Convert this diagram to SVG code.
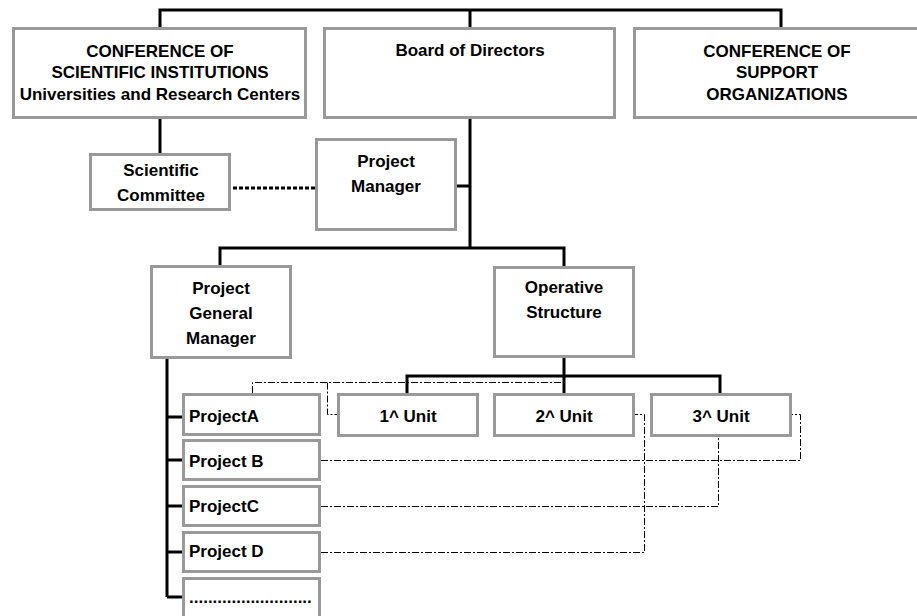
<svg xmlns="http://www.w3.org/2000/svg" width="917" height="616" viewBox="0 0 917 616">
<style>
.box{fill:#fff;stroke:#999;stroke-width:3}
.t{font-family:"Liberation Sans",Arial,sans-serif;font-size:17px;font-weight:bold;fill:#000}
.c{text-anchor:middle}
.thick{fill:none;stroke:#000;stroke-width:3}
.dot{fill:none;stroke:#000;stroke-width:3;stroke-dasharray:4 2}
.dd{fill:none;stroke:#000;stroke-width:1;stroke-dasharray:7 2 2 2}
</style>
<rect width="917" height="616" fill="#fff"/>
<g id="connectors">
<path class="thick" d="M160,27 V10 H781 V27 M470,10 V27"/>
<path class="thick" d="M160,119 V153"/>
<path class="thick" d="M470,118 V248 M457,186 H470"/>
<path class="thick" d="M220,265 V248 H564 V266"/>
<path class="thick" d="M564,358 V376 M407,393 V376 H720 V393 M564,376 V393"/>
<path class="thick" d="M167,359 V597 M167,417 H182 M167,460 H182 M167,506 H182 M167,552 H182 M167,597 H182"/>
<path class="dot" d="M233,188 H315"/>
<path class="dd" d="M252.5,393 V382.5 H563 M327.5,382.5 V414.5 H337"/>
<path class="dd" d="M321,460.5 H800.5 V414.5 H791"/>
<path class="dd" d="M321,506.5 H718.5 V437"/>
<path class="dd" d="M321,552.5 H644.5 V414.5 H635"/>
</g>
<g id="conf-scientific">
<rect class="box" x="13.5" y="28.5" width="292" height="89"/>
<text class="t c" x="160" y="57">CONFERENCE OF</text>
<text class="t c" x="160" y="78">SCIENTIFIC INSTITUTIONS</text>
<text class="t c" x="160" y="100">Universities and Research Centers</text>
</g>
<g id="board">
<rect class="box" x="324.5" y="28.5" width="290" height="89"/>
<text class="t c" x="470" y="56">Board of Directors</text>
</g>
<g id="conf-support">
<rect class="box" x="634.5" y="28.5" width="290" height="89"/>
<text class="t c" x="777" y="57">CONFERENCE OF</text>
<text class="t c" x="777" y="78">SUPPORT</text>
<text class="t c" x="777" y="100">ORGANIZATIONS</text>
</g>
<g id="scientific-committee">
<rect class="box" x="90.5" y="154.5" width="139" height="55"/>
<text class="t c" x="161" y="176">Scientific</text>
<text class="t c" x="161" y="201">Committee</text>
</g>
<g id="project-manager">
<rect class="box" x="316.5" y="139.5" width="139" height="90"/>
<text class="t c" x="386" y="167">Project</text>
<text class="t c" x="386" y="192">Manager</text>
</g>
<g id="project-general-manager">
<rect class="box" x="151.5" y="266.5" width="139" height="91"/>
<text class="t c" x="221" y="294">Project</text>
<text class="t c" x="221" y="319">General</text>
<text class="t c" x="221" y="344">Manager</text>
</g>
<g id="operative-structure">
<rect class="box" x="494.5" y="267.5" width="139" height="89"/>
<text class="t c" x="564" y="293">Operative</text>
<text class="t c" x="564" y="318">Structure</text>
</g>
<g id="unit1">
<rect class="box" x="338.5" y="394.5" width="139" height="41"/>
<text class="t c" x="408" y="422">1^ Unit</text>
</g>
<g id="unit2">
<rect class="box" x="494.5" y="394.5" width="139" height="41"/>
<text class="t c" x="564" y="422">2^ Unit</text>
</g>
<g id="unit3">
<rect class="box" x="651.5" y="394.5" width="139" height="41"/>
<text class="t c" x="721" y="422">3^ Unit</text>
</g>
<g id="projectA">
<rect class="box" x="183.5" y="394.5" width="136" height="40"/>
<text class="t" x="189" y="422">ProjectA</text>
</g>
<g id="projectB">
<rect class="box" x="183.5" y="440.5" width="136" height="39"/>
<text class="t" x="189" y="467">Project B</text>
</g>
<g id="projectC">
<rect class="box" x="183.5" y="486.5" width="136" height="39"/>
<text class="t" x="189" y="512">ProjectC</text>
</g>
<g id="projectD">
<rect class="box" x="183.5" y="532.5" width="136" height="39"/>
<text class="t" x="189" y="557">Project D</text>
</g>
<g id="project-more">
<rect class="box" x="183.5" y="578.5" width="136" height="60"/>
<text class="t" x="189" y="603">..........................</text>
</g>
</svg>
